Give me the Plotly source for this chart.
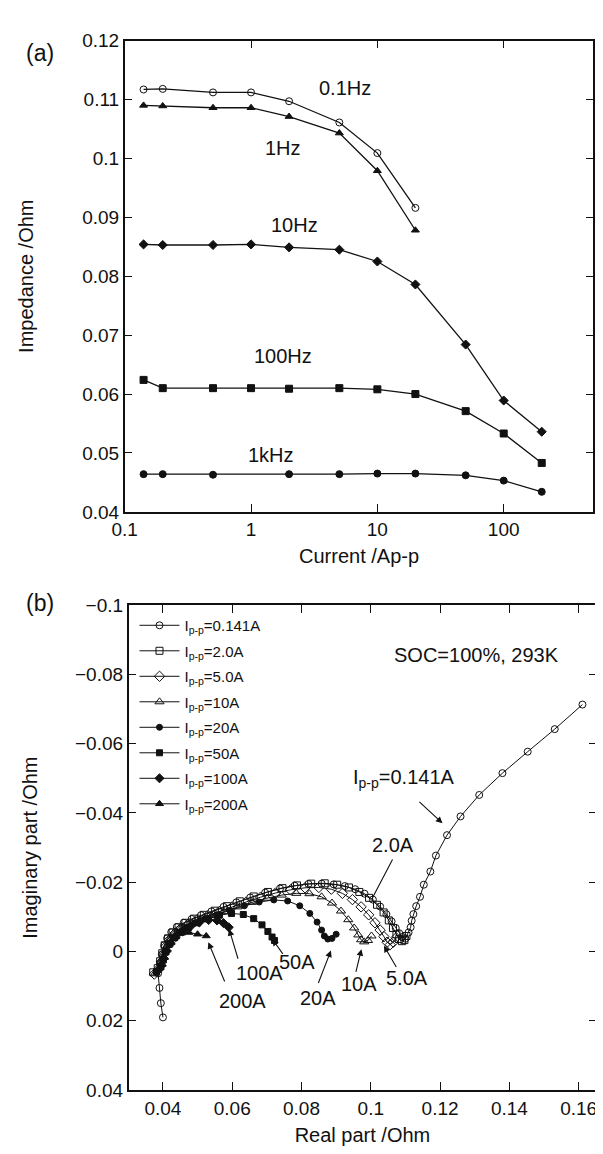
import math
import plotly.graph_objects as go

# ---------------- Panel (a) data ----------------
current = [0.141, 0.2, 0.5, 1, 2, 5, 10, 20, 50, 100, 200]
imp_01hz = [0.1117, 0.1118, 0.1112, 0.1112, 0.1097, 0.1061, 0.1009, 0.0916]
imp_1hz = [0.1090, 0.1089, 0.1086, 0.1086, 0.1071, 0.1043, 0.0979, 0.0878]
imp_10hz = [0.0854, 0.0853, 0.0853, 0.0854, 0.0849, 0.0845, 0.0825, 0.0786, 0.0684, 0.0589, 0.0536]
imp_100hz = [0.0624, 0.0610, 0.0610, 0.0610, 0.0609, 0.0610, 0.0608, 0.0600, 0.0571, 0.0533, 0.0483]
current_1khz = [0.141, 0.2, 0.5, 2, 5, 10, 20, 50, 100, 200]
imp_1khz = [0.0464, 0.0464, 0.0463, 0.0464, 0.0464, 0.0465, 0.0465, 0.0462, 0.0453, 0.0434]

freq_labels = ["0.1Hz", "1Hz", "10Hz", "100Hz", "1kHz"]
freq_label_x = [5.5, 1.8, 2.2, 1.8, 1.45]
freq_label_y = [0.1119, 0.1017, 0.0887, 0.0664, 0.0496]

# ---------------- Panel (b) data ----------------
re_0141 = [0.0400, 0.0394, 0.0390, 0.0386, 0.0392, 0.0398, 0.0404, 0.0412, 0.0424, 0.0440, 0.0460, 0.0483,
           0.0510, 0.0540, 0.0575, 0.0612, 0.0652, 0.0695, 0.0738, 0.0780, 0.0820, 0.0858, 0.0893, 0.0925,
           0.0955, 0.0982, 0.1006, 0.1027, 0.1045, 0.1060, 0.1072, 0.1082, 0.1091, 0.1100, 0.1109, 0.1115,
           0.1118, 0.1123, 0.1131, 0.1142, 0.1153, 0.1172, 0.1188, 0.1220, 0.1259, 0.1313, 0.1380, 0.1453,
           0.1531, 0.1611]
im_0141 = [0.0190, 0.0149, 0.0105, 0.0063, 0.0035, 0.0008, -0.0018, -0.0038, -0.0056, -0.0071, -0.0083, -0.0094,
           -0.0105, -0.0116, -0.0129, -0.0142, -0.0156, -0.0170, -0.0182, -0.0190, -0.0195, -0.0196, -0.0194, -0.0189,
           -0.0180, -0.0167, -0.0150, -0.0130, -0.0108, -0.0087, -0.0068, -0.0053, -0.0042, -0.0037, -0.0055, -0.0070,
           -0.0089, -0.0108, -0.0131, -0.0158, -0.0193, -0.0231, -0.0277, -0.0336, -0.0390, -0.0452, -0.0515, -0.0577,
           -0.0642, -0.0713]

re_2a = [0.0372, 0.0385, 0.0392, 0.0398, 0.0405, 0.0415, 0.0428, 0.0445, 0.0465, 0.0490, 0.0518, 0.0550, 0.0585,
         0.0622, 0.0662, 0.0703, 0.0745, 0.0787, 0.0828, 0.0867, 0.0903, 0.0937, 0.0967, 0.0995, 0.1018, 0.1037,
         0.1052, 0.1064, 0.1074, 0.1082, 0.1090, 0.1097, 0.1103]
im_2a = [0.0060, 0.0048, 0.0028, 0.0005, -0.0018, -0.0038, -0.0055, -0.0070, -0.0083, -0.0095, -0.0106, -0.0118,
         -0.0131, -0.0145, -0.0159, -0.0172, -0.0183, -0.0191, -0.0196, -0.0197, -0.0193, -0.0185, -0.0172, -0.0155,
         -0.0135, -0.0113, -0.0090, -0.0068, -0.0050, -0.0036, -0.0030, -0.0033, -0.0045]

re_5a = [0.0375, 0.0388, 0.0395, 0.0401, 0.0409, 0.0420, 0.0435, 0.0453, 0.0475, 0.0500, 0.0530, 0.0563, 0.0600,
         0.0640, 0.0682, 0.0725, 0.0768, 0.0810, 0.0850, 0.0886, 0.0918, 0.0947, 0.0972, 0.0994, 0.1012, 0.1027,
         0.1038, 0.1047, 0.1056, 0.1065, 0.1073]
im_5a = [0.0065, 0.0050, 0.0030, 0.0008, -0.0015, -0.0035, -0.0053, -0.0068, -0.0081, -0.0093, -0.0104, -0.0116,
         -0.0129, -0.0143, -0.0157, -0.0169, -0.0178, -0.0184, -0.0185, -0.0180, -0.0168, -0.0150, -0.0129, -0.0106,
         -0.0083, -0.0062, -0.0043, -0.0027, -0.0020, -0.0027, -0.0040]

re_10a = [0.0378, 0.0390, 0.0397, 0.0404, 0.0413, 0.0425, 0.0441, 0.0460, 0.0483, 0.0510, 0.0541, 0.0576, 0.0615,
          0.0657, 0.0700, 0.0743, 0.0785, 0.0823, 0.0858, 0.0888, 0.0914, 0.0935, 0.0952, 0.0964, 0.0972, 0.0981,
          0.0992, 0.1002]
im_10a = [0.0062, 0.0047, 0.0027, 0.0004, -0.0018, -0.0037, -0.0054, -0.0068, -0.0081, -0.0093, -0.0104, -0.0116,
          -0.0129, -0.0142, -0.0154, -0.0163, -0.0168, -0.0167, -0.0158, -0.0140, -0.0117, -0.0092, -0.0068, -0.0048,
          -0.0034, -0.0028, -0.0032, -0.0045]

re_20a = [0.0380, 0.0392, 0.0399, 0.0406, 0.0416, 0.0429, 0.0446, 0.0467, 0.0492, 0.0521, 0.0555, 0.0593, 0.0635,
          0.0678, 0.0720, 0.0760, 0.0795, 0.0824, 0.0845, 0.0858, 0.0866, 0.0876, 0.0888, 0.0900]
im_20a = [0.0060, 0.0045, 0.0025, 0.0002, -0.0020, -0.0039, -0.0055, -0.0069, -0.0082, -0.0094, -0.0106, -0.0119,
          -0.0132, -0.0143, -0.0149, -0.0146, -0.0132, -0.0110, -0.0085, -0.0062, -0.0045, -0.0036, -0.0038, -0.0050]

re_50a = [0.0382, 0.0394, 0.0401, 0.0409, 0.0420, 0.0434, 0.0452, 0.0474, 0.0500, 0.0530, 0.0563, 0.0598, 0.0632,
          0.0662, 0.0686, 0.0703, 0.0715, 0.0722]
im_50a = [0.0058, 0.0043, 0.0022, 0.0000, -0.0022, -0.0040, -0.0056, -0.0070, -0.0083, -0.0095, -0.0105, -0.0110,
          -0.0107, -0.0095, -0.0077, -0.0058, -0.0042, -0.0032]

re_100a = [0.0384, 0.0396, 0.0403, 0.0411, 0.0422, 0.0437, 0.0456, 0.0479, 0.0505, 0.0532, 0.0556, 0.0575, 0.0590]
im_100a = [0.0056, 0.0040, 0.0020, -0.0002, -0.0024, -0.0042, -0.0058, -0.0072, -0.0084, -0.0091, -0.0090, -0.0082,
           -0.0070]

re_200a = [0.0386, 0.0397, 0.0404, 0.0412, 0.0423, 0.0437, 0.0454, 0.0475, 0.0500, 0.0525]
im_200a = [0.0054, 0.0038, 0.0018, -0.0004, -0.0025, -0.0042, -0.0053, -0.0055, -0.0050, -0.0045]

series_names = ["0.141A", "2.0A", "5.0A", "10A", "20A", "50A", "100A", "200A"]

# arrow labels in panel (b): text position, arrow tail, arrow tip
lbl_text = ["I<sub>p-p</sub>=0.141A", "2.0A", "5.0A", "10A", "20A", "50A", "100A", "200A"]
lbl_x = [0.1095, 0.1065, 0.1104, 0.0967, 0.0849, 0.0787, 0.0678, 0.0629]
lbl_y = [-0.0500, -0.0308, 0.0077, 0.0095, 0.0135, 0.0030, 0.0063, 0.0142]
tail_x = [0.1136, 0.1065, 0.1076, 0.0956, 0.0847, 0.0749, 0.0618, 0.0580]
tail_y = [-0.0436, -0.0270, 0.0049, 0.0063, 0.0095, 0.0011, 0.0025, 0.0091]
tip_x = [0.1207, 0.1005, 0.1038, 0.0973, 0.0885, 0.0716, 0.0591, 0.0531]
tip_y = [-0.0370, -0.0155, -0.0017, -0.0007, -0.0003, -0.0036, -0.0065, -0.0027]
arrow_head = [2, 0, 2, 2, 2, 2, 2, 2]

FONT = "Liberation Sans, Arial, Helvetica, sans-serif"
BLACK = "#111111"

fig = go.Figure()

# ---- panel (a) traces ----
top_series = [
    (current[:8], imp_01hz, "circle-open", 7),
    (current[:8], imp_1hz, "triangle-up", 7),
    (current, imp_10hz, "diamond", 7),
    (current, imp_100hz, "square", 7),
    (current_1khz, imp_1khz, "circle", 7),
]
for xs, ys, sym, sz in top_series:
    fig.add_trace(go.Scatter(
        x=xs, y=ys, mode="lines+markers", xaxis="x", yaxis="y", showlegend=False,
        line=dict(color=BLACK, width=1.3),
        marker=dict(symbol=sym, size=sz, color=BLACK, line=dict(color=BLACK, width=1)),
    ))

# ---- panel (b) traces ----
bottom_series = [
    (re_0141, im_0141, "circle-open", 7),
    (re_2a, im_2a, "square-open", 7),
    (re_5a, im_5a, "diamond-open", 8),
    (re_10a, im_10a, "triangle-up-open", 8),
    (re_20a, im_20a, "circle", 6),
    (re_50a, im_50a, "square", 6),
    (re_100a, im_100a, "diamond", 7),
    (re_200a, im_200a, "triangle-up", 7),
]
for (xs, ys, sym, sz), name in zip(bottom_series, series_names):
    fig.add_trace(go.Scatter(
        x=xs, y=ys, mode="lines+markers", xaxis="x2", yaxis="y2",
        name="I<sub>p-p</sub>=" + name, legendgroup=name,
        line=dict(color=BLACK, width=1),
        marker=dict(symbol=sym, size=sz, color=BLACK, line=dict(color=BLACK, width=1)),
    ))

annotations = []
for t, x, y in zip(freq_labels, freq_label_x, freq_label_y):
    annotations.append(dict(x=math.log10(x), y=y, xref="x", yref="y", text=t,
                            showarrow=False, font=dict(size=20, color=BLACK, family=FONT)))

for i in range(len(lbl_text)):
    annotations.append(dict(x=tip_x[i], y=tip_y[i], ax=tail_x[i], ay=tail_y[i],
                            xref="x2", yref="y2", axref="x2", ayref="y2", text="",
                            showarrow=True, arrowhead=arrow_head[i], arrowsize=1.2,
                            arrowwidth=1.1, arrowcolor=BLACK))
    annotations.append(dict(x=lbl_x[i], y=lbl_y[i], xref="x2", yref="y2", text=lbl_text[i],
                            showarrow=False, font=dict(size=20, color=BLACK, family=FONT)))

annotations.append(dict(x=0.1305, y=-0.0855, xref="x2", yref="y2", text="SOC=100%, 293K",
                        showarrow=False, font=dict(size=20, color=BLACK, family=FONT)))
annotations.append(dict(x=3 / 603, y=1 - 20 / 1154, xref="paper", yref="paper", text="(a)",
                        xanchor="left", showarrow=False, font=dict(size=23, color=BLACK, family=FONT)))
annotations.append(dict(x=3 / 603, y=1 - 596 / 1154, xref="paper", yref="paper", text="(b)",
                        xanchor="left", showarrow=False, font=dict(size=23, color=BLACK, family=FONT)))

axis_common = dict(showgrid=False, zeroline=False, showline=True, linecolor=BLACK, linewidth=1.5,
                   mirror="ticks", ticks="inside", ticklen=8, tickwidth=1.3, tickcolor=BLACK,
                   tickfont=dict(size=19, color=BLACK, family=FONT),
                   title_font=dict(size=20, color=BLACK, family=FONT))

fig.update_layout(
    width=603, height=1154,
    margin=dict(l=0, r=0, t=0, b=0),
    paper_bgcolor="white", plot_bgcolor="white",
    font=dict(family=FONT, color=BLACK),
    xaxis=dict(axis_common, type="log", range=[-1, 2.71], domain=[106 / 603, 585 / 603], anchor="y",
               tickvals=[0.1, 1, 10, 100], ticktext=["0.1", "1", "10", "100"],
               title=dict(text="Current /Ap-p", standoff=10)),
    yaxis=dict(axis_common, range=[0.04, 0.12], domain=[1 - 503 / 1154, 1 - 23 / 1154], anchor="x",
               tickvals=[0.04, 0.05, 0.06, 0.07, 0.08, 0.09, 0.1, 0.11, 0.12],
               ticktext=["0.04", "0.05", "0.06", "0.07", "0.08", "0.09", "0.1", "0.11", "0.12"],
               title=dict(text="Impedance /Ohm", standoff=43)),
    xaxis2=dict(axis_common, range=[0.0301, 0.1651], domain=[110 / 603, 588 / 603], anchor="y2",
                tickvals=[0.04, 0.06, 0.08, 0.1, 0.12, 0.14, 0.16],
                ticktext=["0.04", "0.06", "0.08", "0.1", "0.12", "0.14", "0.16"],
                title=dict(text="Real part /Ohm", standoff=10)),
    yaxis2=dict(axis_common, range=[0.04, -0.1], domain=[1 - 1092 / 1154, 1 - 598 / 1154], anchor="x2",
                tickvals=[-0.1, -0.08, -0.06, -0.04, -0.02, 0, 0.02, 0.04],
                ticktext=["\u22120.1", "\u22120.08", "\u22120.06", "\u22120.04", "\u22120.02", "0", "0.02", "0.04"],
                title=dict(text="Imaginary part /Ohm", standoff=32)),
    legend=dict(x=116 / 603, y=1 - 602 / 1154, xanchor="left", yanchor="top",
                bgcolor="rgba(0,0,0,0)", borderwidth=0, itemwidth=40,
                font=dict(size=15, color=BLACK, family=FONT), tracegroupgap=3),
    annotations=annotations,
)

fig.write_html("out.html")
